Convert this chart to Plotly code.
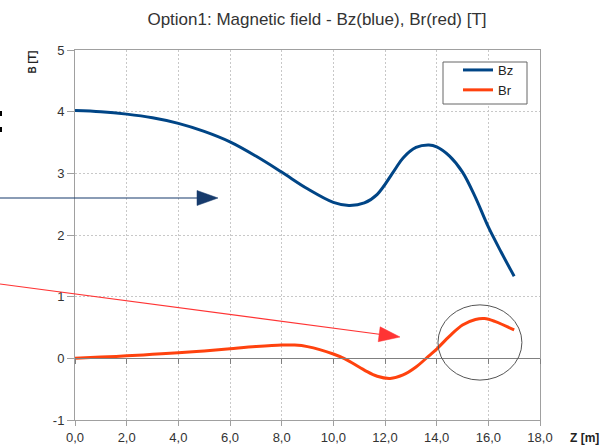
import math
import plotly.graph_objects as go

# ---- data ----
z_bz = [0, 1, 2, 3, 4, 5, 6, 7, 8, 9, 10, 10.6, 11.2, 11.7, 12.35, 12.7, 13.2, 13.7, 14, 14.5, 15, 15.5, 16, 16.5, 17]
bz = [4.02, 4.00, 3.96, 3.90, 3.81, 3.68, 3.51, 3.28, 3.02, 2.75, 2.53, 2.48, 2.52, 2.66, 3.04, 3.25, 3.42, 3.46, 3.43, 3.28, 3.02, 2.61, 2.13, 1.72, 1.33]

z_br = [0, 1, 2, 3, 4, 5, 6, 7, 8, 8.5, 9, 10, 10.45, 11.2, 11.7, 12.2, 12.7, 13.2, 13.7, 14, 14.5, 15, 15.5, 15.85, 16.25, 17]
br = [0.0, 0.02, 0.04, 0.065, 0.09, 0.12, 0.155, 0.19, 0.215, 0.215, 0.19, 0.07, -0.01, -0.19, -0.29, -0.325, -0.27, -0.14, 0.04, 0.15, 0.36, 0.54, 0.63, 0.645, 0.60, 0.46]

x_tick_vals = [0, 2, 4, 6, 8, 10, 12, 14, 16, 18]
x_tick_labels = ["0,0", "2,0", "4,0", "6,0", "8,0", "10,0", "12,0", "14,0", "16,0", "18,0"]
y_tick_vals = [-1, 0, 1, 2, 3, 4, 5]
y_tick_labels = ["-1", "0", "1", "2", "3", "4", "5"]

FONT = "Liberation Sans, Arial, sans-serif"
W, H = 613, 446
L, R, T, B = 75, 73, 50, 26
PW, PH = W - L - R, H - T - B


def px(xp):
    return (xp - L) / PW


def py(yp):
    return (H - B - yp) / PH


fig = go.Figure()
fig.add_trace(go.Scatter(x=z_bz, y=bz, name="Bz", mode="lines",
                         line=dict(color="#004586", width=3, shape="spline", smoothing=1.0),
                         hoverinfo="skip"))
fig.add_trace(go.Scatter(x=z_br, y=br, name="Br", mode="lines",
                         line=dict(color="#ff420e", width=3, shape="spline", smoothing=1.0),
                         hoverinfo="skip"))
# invisible trace to carry the axis drawn at B = 0
fig.add_trace(go.Scatter(x=z_br, y=br, xaxis="x2", mode="lines", line=dict(width=0),
                         opacity=0, showlegend=False, hoverinfo="skip"))

GRID = dict(showgrid=True, gridcolor="#c8c8c8", griddash="2px,2px", gridwidth=1)

fig.update_layout(
    width=W, height=H,
    margin=dict(l=L, r=R, t=T, b=B, pad=0, autoexpand=False),
    paper_bgcolor="white", plot_bgcolor="white",
    font=dict(family=FONT, size=13, color="#333333"),
    title=dict(text="Option1: Magnetic field - Bz(blue), Br(red) [T]",
               font=dict(family=FONT, size=17, color="#333333"),
               x=317 / W, xref="container", xanchor="center",
               y=1 - 19 / H, yref="container", yanchor="middle"),
    xaxis=dict(range=[0, 18], tickvals=x_tick_vals, ticktext=x_tick_labels, **GRID,
               showline=True, linecolor="#a0a0a0", linewidth=1, mirror=True,
               ticks="outside", ticklen=5, tickcolor="#a0a0a0",
               zeroline=False, tickfont=dict(size=13, color="#333333")),
    xaxis2=dict(range=[0, 18], overlaying="x", anchor="free", position=1 / 6,
                side="bottom", tickvals=x_tick_vals, showticklabels=False,
                showgrid=False, zeroline=False, showline=True, linecolor="#808080",
                linewidth=1, ticks="outside", ticklen=5, tickcolor="#808080"),
    yaxis=dict(range=[-1, 5], tickvals=y_tick_vals, ticktext=y_tick_labels, **GRID,
               showline=True, linecolor="#a0a0a0", linewidth=1, mirror=True,
               ticks="outside", ticklen=7, tickcolor="#a0a0a0",
               zeroline=False, tickfont=dict(size=13, color="#333333")),
    legend=dict(x=px(458), y=py(55), xanchor="left", yanchor="top",
                borderwidth=0, bgcolor="rgba(0,0,0,0)",
                font=dict(family=FONT, size=13, color="#222222"),
                tracegroupgap=0),
    showlegend=True,
)

# legend frame
fig.add_shape(type="rect", xref="paper", yref="paper",
              x0=px(443), x1=px(527), y0=py(104), y1=py(62),
              line=dict(color="#666666", width=1), fillcolor="white", layer="above")

# axis titles
fig.add_annotation(text="<b>B [T]</b>", xref="paper", yref="paper",
                   x=px(32), y=py(62.5), textangle=-90, showarrow=False,
                   font=dict(family=FONT, size=10, color="#222222"),
                   xanchor="center", yanchor="middle")
fig.add_annotation(text="<b>Z [m]</b>", xref="paper", yref="paper",
                   x=px(584.5), y=py(438), showarrow=False,
                   font=dict(family=FONT, size=12, color="#222222"),
                   xanchor="center", yanchor="middle")


# hand-drawn arrows (pixel positions converted to paper coordinates)
def arrow(x0, y0, x1, y1, color, head_len=21, head_w=15):
    ang = math.atan2(y1 - y0, x1 - x0)
    cx, cy = math.cos(ang), math.sin(ang)
    bx, by = x1 - head_len * cx, y1 - head_len * cy
    nx, ny = -cy * head_w / 2, cx * head_w / 2
    fig.add_shape(type="line", xref="paper", yref="paper",
                  x0=px(x0), y0=py(y0), x1=px(bx + 2 * cx), y1=py(by + 2 * cy),
                  line=dict(color=color, width=1.2))
    path = "M {} {} L {} {} L {} {} Z".format(
        px(x1), py(y1), px(bx + nx), py(by + ny), px(bx - nx), py(by - ny))
    fig.add_shape(type="path", xref="paper", yref="paper", path=path,
                  fillcolor=color, line=dict(color=color, width=0.5))


arrow(0, 198, 218, 198, "#173b6c")
arrow(0, 284, 400, 337, "#ff3434")

# ellipse around the Br peak
fig.add_shape(type="circle", xref="x", yref="y", x0=14.05, x1=17.3, y0=-0.353, y1=0.867,
              line=dict(color="#555555", width=1))

# small black marks at the left edge
fig.add_shape(type="rect", xref="paper", yref="paper", x0=px(0), x1=px(2), y0=py(116), y1=py(111),
              line=dict(width=0), fillcolor="black")
fig.add_shape(type="rect", xref="paper", yref="paper", x0=px(0), x1=px(2), y0=py(132), y1=py(127),
              line=dict(width=0), fillcolor="black")

fig.write_html("out.html", config={"displayModeBar": False},
               post_script="document.body.style.margin='0';document.body.style.overflow='hidden';")
